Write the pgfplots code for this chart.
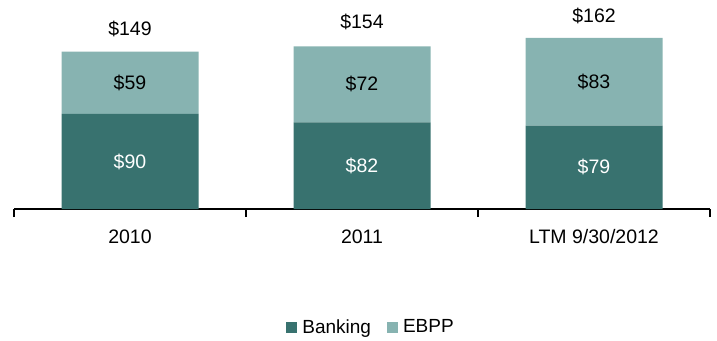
\documentclass[border=0pt]{standalone}
\usepackage{pgfplots}
\pgfplotsset{compat=1.18}
\usepackage{fontspec}
\setmainfont{Liberation Sans}
\definecolor{bank}{HTML}{38726F}
\definecolor{ebpp}{HTML}{87B3B1}
\begin{document}
\begin{tikzpicture}[x=1pt,y=1pt]
\useasboundingbox (0,0) rectangle (717,340);
\begin{axis}[
  at={(14pt,131pt)}, anchor=south west,
  scale only axis, width=696pt, height=209pt,
  xmin=-0.5, xmax=2.5, ymin=0, ymax=198,
  ybar stacked, bar width=137pt,
  axis x line*=bottom, hide y axis,
  axis line style={black, line width=1.2pt},
  xtick={0,1,2}, xticklabels={2010,2011,LTM 9/30/2012},
  major tick length=0pt,
  xticklabel style={font=\fontsize{19.5}{22}\selectfont, yshift=-17pt},
  extra x ticks={-0.5,0.5,1.5,2.5}, extra x tick labels={},
  extra x tick style={tick align=outside, major tick length=8pt, tick style={black, line width=1.2pt}},
  legend style={at={(0.513,-0.565)}, anchor=center, draw=none, legend columns=2,
    font=\fontsize{19}{22}\selectfont,
    /tikz/every odd column/.append style={column sep=3pt},
    /tikz/every even column/.append style={column sep=14pt}},
  legend image code/.code={\fill[#1] (0pt,-5.5pt) rectangle (11pt,5.5pt);},
]
\addplot[fill=bank, draw=none] coordinates {(0,90) (1,82) (2,79)};
\addplot[fill=ebpp, draw=none] coordinates {(0,59) (1,72) (2,83)};
\legend{Banking, EBPP}
\end{axis}
\begin{axis}[
  at={(14pt,131pt)}, anchor=south west,
  scale only axis, width=696pt, height=209pt,
  xmin=-0.5, xmax=2.5, ymin=0, ymax=198,
  hide axis, clip=false,
  nodes near coords, point meta=explicit symbolic,
  every node near coord/.append style={anchor=center, font=\fontsize{19.5}{22}\selectfont},
]
\addplot[draw=none, mark=none, every node near coord/.append style={text=white}]
  coordinates {(0,45)[\$90] (1,41)[\$82] (2,39.5)[\$79]};
\addplot[draw=none, mark=none, every node near coord/.append style={text=black}]
  coordinates {(0,119.5)[\$59] (1,118)[\$72] (2,120.5)[\$83]};
\addplot[draw=none, mark=none, every node near coord/.append style={text=black}]
  coordinates {(0,170.5)[\$149] (1,177)[\$154] (2,183)[\$162]};
\end{axis}
\end{tikzpicture}
\end{document}
